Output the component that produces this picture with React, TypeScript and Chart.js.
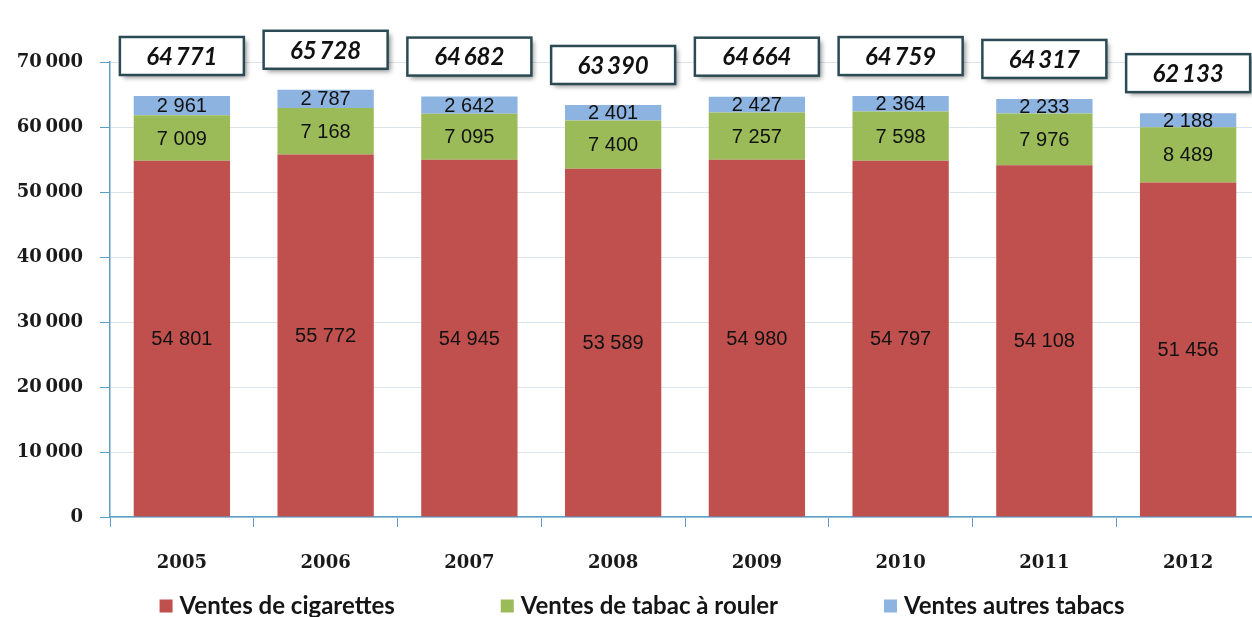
import React, { useEffect, useRef } from "react";
import { Chart, registerables } from "chart.js";

Chart.register(...registerables);

const years = ["2005", "2006", "2007", "2008", "2009", "2010", "2011", "2012"];
const cigarettes = [54801, 55772, 54945, 53589, 54980, 54797, 54108, 51456];
const tabacRouler = [7009, 7168, 7095, 7400, 7257, 7598, 7976, 8489];
const autresTabacs = [2961, 2787, 2642, 2401, 2427, 2364, 2233, 2188];
const totals = [64771, 65728, 64682, 63390, 64664, 64759, 64317, 62133];
const seriesNames = ["Ventes de cigarettes", "Ventes de tabac à rouler", "Ventes autres tabacs"];

const COLORS = ["#c0504d", "#9bbb59", "#8db3e0"];
const AXIS = "#5b9fc6";
const GRID = "#d8e4ee";

const fmt = (n: number, sep = " ") => {
  const s = String(Math.round(n));
  return s.replace(/\B(?=(\d{3})+(?!\d))/g, sep);
};

const segmentLabels = {
  id: "segmentLabels",
  afterDatasetsDraw(chart: any) {
    const ctx = chart.ctx;
    ctx.save();
    ctx.font = "20px 'Liberation Sans', Arial, sans-serif";
    ctx.fillStyle = "#111111";
    ctx.textAlign = "center";
    ctx.textBaseline = "middle";
    chart.data.datasets.forEach((ds: any, di: number) => {
      const meta = chart.getDatasetMeta(di);
      meta.data.forEach((el: any, i: number) => {
        const y = (el.y + el.base) / 2;
        ctx.fillText(fmt(ds.data[i]), el.x, y + 1);
      });
    });
    ctx.restore();
  },
};

const totalBoxes = {
  id: "totalBoxes",
  afterDatasetsDraw(chart: any) {
    const ctx = chart.ctx;
    const last = chart.getDatasetMeta(chart.data.datasets.length - 1);
    const w = 124;
    const h = 38;
    ctx.save();
    last.data.forEach((el: any, i: number) => {
      const cx = el.x;
      const bottom = el.y - 21;
      const x = cx - w / 2;
      const y = bottom - h;
      ctx.save();
      ctx.shadowColor = "rgba(0,0,0,0.45)";
      ctx.shadowBlur = 5;
      ctx.shadowOffsetX = 3;
      ctx.shadowOffsetY = 3;
      ctx.fillStyle = "#ffffff";
      ctx.fillRect(x, y, w, h);
      ctx.restore();
      ctx.lineWidth = 2.5;
      ctx.strokeStyle = "#2b4a54";
      ctx.strokeRect(x, y, w, h);
      ctx.fillStyle = "#111111";
      ctx.font = "italic bold 24px Lato, 'Open Sans', sans-serif";
      ctx.textAlign = "center";
      ctx.textBaseline = "middle";
      ctx.fillText(fmt(totals[i], "\u2009"), cx, y + h / 2 + 1);
    });
    ctx.restore();
  },
};

const bottomLegend = {
  id: "bottomLegend",
  afterDraw(chart: any) {
    const ctx = chart.ctx;
    ctx.save();
    ctx.font = "bold 24px Lato, 'Open Sans', sans-serif";
    ctx.textBaseline = "middle";
    ctx.textAlign = "left";
    const box = 13;
    const gapText = 7;
    const gapItem = 106;
    const widths = seriesNames.map((n) => ctx.measureText(n).width);
    const total =
      widths.reduce((a, b) => a + b, 0) + seriesNames.length * (box + gapText) + gapItem * (seriesNames.length - 1);
    let x = 642 - total / 2;
    const y = 606;
    seriesNames.forEach((n, i) => {
      ctx.fillStyle = COLORS[i];
      ctx.fillRect(x, y - box / 2, box, box);
      x += box + gapText;
      ctx.fillStyle = "#151515";
      ctx.fillText(n, x, y);
      x += widths[i] + gapItem;
    });
    ctx.restore();
  },
};

export default function App() {
  const ref = useRef<HTMLCanvasElement | null>(null);
  useEffect(() => {
    if (!ref.current) return;
    const chart = new Chart(ref.current, {
      type: "bar",
      data: {
        labels: years,
        datasets: [
          { label: seriesNames[0], data: cigarettes, backgroundColor: COLORS[0] },
          { label: seriesNames[1], data: tabacRouler, backgroundColor: COLORS[1] },
          { label: seriesNames[2], data: autresTabacs, backgroundColor: COLORS[2] },
        ],
      },
      options: {
        responsive: false,
        animation: false,
        devicePixelRatio: 1,
        layout: { padding: { top: 62, right: 2, bottom: 40, left: 0 } },
        datasets: { bar: { barPercentage: 0.67, categoryPercentage: 1 } },
        plugins: {
          legend: { display: false },
          tooltip: { enabled: false },
          title: { display: false },
        },
        scales: {
          x: {
            stacked: true,
            offset: true,
            grid: {
              drawOnChartArea: false,
              drawTicks: true,
              tickLength: 10,
              color: "rgba(0,0,0,0)",
              tickColor: AXIS,
              offset: true,
            },
            border: { color: AXIS, width: 1.5 },
            ticks: {
              color: "#1a1a1a",
              padding: 26,
              font: { family: "'DejaVu Serif', serif", weight: "bold", size: 18 },
            },
            afterFit: (s: any) => {
              s.height = 60;
            },
          },
          y: {
            stacked: true,
            min: 0,
            max: 70000,
            grid: { color: GRID, tickLength: 10, tickColor: AXIS, lineWidth: 1 },
            border: { color: AXIS, width: 1.5 },
            ticks: {
              stepSize: 10000,
              color: "#1a1a1a",
              padding: 17,
              font: { family: "'DejaVu Serif', serif", weight: "bold", size: 18 },
              callback: (v: any) => fmt(Number(v), "\u2009"),
            },
            afterFit: (s: any) => {
              s.width = 110;
            },
          },
        },
      },
      plugins: [segmentLabels, totalBoxes, bottomLegend],
    } as any);
    return () => chart.destroy();
  }, []);
  return (
    <div
      style={{
        position: "absolute",
        left: 0,
        top: 0,
        width: 1252,
        height: 617,
        overflow: "hidden",
        background: "#ffffff",
      }}
    >
      <canvas ref={ref} width={1262} height={617} style={{ display: "block", width: 1262, height: 617 }} />
    </div>
  );
}
